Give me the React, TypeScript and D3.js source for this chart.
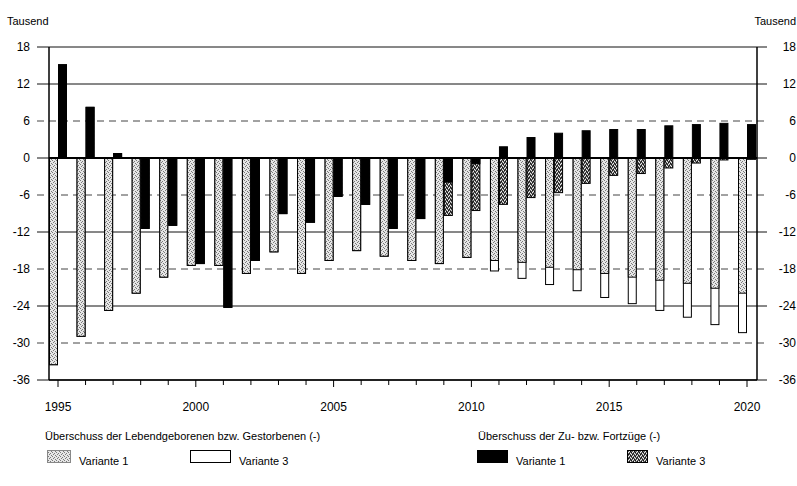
import { useEffect, useRef } from 'react'
import * as d3 from 'd3'

const years = [1995, 1996, 1997, 1998, 1999, 2000, 2001, 2002, 2003, 2004, 2005, 2006, 2007,
  2008, 2009, 2010, 2011, 2012, 2013, 2014, 2015, 2016, 2017, 2018, 2019, 2020]

// Überschuss der Lebendgeborenen bzw. Gestorbenen (Tausend)
const birthsV1 = [-33.6, -29.0, -24.8, -22.0, -19.4, -17.5, -17.5, -18.8, -15.3, -18.8, -16.7, -15.1, -16.0,
  -16.7, -17.2, -16.2, -16.7, -17.0, -17.8, -18.2, -18.8, -19.4, -19.9, -20.4, -21.2, -22.0]
const birthsV3 = [-33.6, -29.0, -24.8, -22.0, -19.4, -17.5, -17.5, -18.8, -15.3, -18.8, -16.7, -15.1, -16.0,
  -16.7, -17.2, -16.2, -18.4, -19.6, -20.6, -21.6, -22.7, -23.7, -24.8, -25.9, -27.1, -28.4]

// Überschuss der Zu- bzw. Fortzüge (Tausend)
const migrV1 = [15.2, 8.3, 0.8, -11.5, -11.0, -17.2, -24.3, -16.7, -9.1, -10.5, -6.3, -7.6, -11.5,
  -9.9, -4.0, -1.0, 1.9, 3.4, 4.1, 4.5, 4.7, 4.7, 5.3, 5.5, 5.7, 5.5]
const migrV3 = [15.2, 8.3, 0.8, -11.5, -11.0, -17.2, -24.3, -16.7, -9.1, -10.5, -6.3, -7.6, -11.5,
  -9.9, -9.4, -8.6, -7.6, -6.5, -5.7, -4.2, -2.9, -2.6, -1.7, -0.9, -0.4, -0.3]

const yTicks = [18, 12, 6, 0, -6, -12, -18, -24, -30, -36]
const dashedTicks = [6, -6, -18, -30]
const xLabels = [1995, 2000, 2005, 2010, 2015, 2020]

const FONT = 'Liberation Sans, Arial, sans-serif'

export default function App() {
  const svgRef = useRef<SVGSVGElement>(null)

  useEffect(() => {
    if (!svgRef.current) return
    const svg = d3.select(svgRef.current)
    svg.selectAll('*').remove()

    const W = 797, H = 486
    const left = 49, right = 757
    const y = d3.scaleLinear().domain([-36, 18]).range([380, 47])
    const x = d3.scaleLinear().domain([1995, 2020]).range([58, 747])
    const bw = 9

    svg.attr('width', W).attr('height', H)
    svg.append('rect').attr('width', W).attr('height', H).attr('fill', '#fff')

    // patterns
    const defs = svg.append('defs')
    const dots = defs.append('pattern').attr('id', 'dots')
      .attr('width', 4).attr('height', 4).attr('patternUnits', 'userSpaceOnUse')
    dots.append('rect').attr('width', 4).attr('height', 4).attr('fill', '#e6e6e6')
    ;[[0, 0], [2, 1], [1, 2], [3, 3]].forEach(([a, b]) =>
      dots.append('rect').attr('x', a).attr('y', b).attr('width', 1).attr('height', 1).attr('fill', '#7a7a7a'))

    const hatch = defs.append('pattern').attr('id', 'hatch')
      .attr('width', 4).attr('height', 4).attr('patternUnits', 'userSpaceOnUse')
    hatch.append('rect').attr('width', 4).attr('height', 4).attr('fill', '#666')
    ;[[0, 0], [2, 1], [1, 3], [3, 2]].forEach(([a, b]) =>
      hatch.append('rect').attr('x', a).attr('y', b).attr('width', 1).attr('height', 1).attr('fill', '#eee'))
    ;[[1, 1], [3, 0], [0, 2], [2, 3]].forEach(([a, b]) =>
      hatch.append('rect').attr('x', a).attr('y', b).attr('width', 1).attr('height', 1).attr('fill', '#111'))

    // grid lines
    yTicks.forEach(t => {
      const dashed = dashedTicks.includes(t)
      svg.append('line')
        .attr('x1', 37).attr('x2', 767)
        .attr('y1', y(t)).attr('y2', y(t))
        .attr('stroke', dashed ? '#444' : '#111')
        .attr('stroke-width', 1)
        .attr('stroke-dasharray', dashed ? '7,5' : null)
    })

    const g = svg.append('g')
    const bar = (vals: number[], x0: (i: number) => number, fill: string, stroke: string | null) => {
      g.selectAll(null).data(vals).enter().append('rect')
        .attr('x', (_, i) => x0(i) + 0.5)
        .attr('width', bw - 1)
        .attr('y', d => y(Math.max(0, d)) + 0.5)
        .attr('height', d => Math.max(0, Math.abs(y(d) - y(0)) - 1))
        .attr('fill', fill)
        .attr('stroke', stroke)
        .attr('stroke-width', stroke ? 1 : 0)
    }

    // Lebendgeborenen / Gestorbenen: left of the year tick
    bar(birthsV3, i => x(years[i]) - bw, '#fff', '#000')
    bar(birthsV1, i => x(years[i]) - bw, 'url(#dots)', '#000')
    // Zu- / Fortzüge: right of the year tick
    bar(migrV3, i => x(years[i]), 'url(#hatch)', '#000')
    bar(migrV1, i => x(years[i]), '#000', '#000')

    // axes frame
    svg.append('line').attr('x1', left).attr('x2', left).attr('y1', y(18)).attr('y2', y(-36))
      .attr('stroke', '#000').attr('stroke-width', 1.5)
    svg.append('line').attr('x1', right).attr('x2', right).attr('y1', y(18)).attr('y2', y(-36))
      .attr('stroke', '#000').attr('stroke-width', 1.5)
    svg.append('line').attr('x1', left).attr('x2', right).attr('y1', y(0)).attr('y2', y(0))
      .attr('stroke', '#000').attr('stroke-width', 2)
    svg.append('line').attr('x1', left).attr('x2', right).attr('y1', y(-36)).attr('y2', y(-36))
      .attr('stroke', '#000').attr('stroke-width', 1.5)

    // x ticks
    years.forEach(yr => {
      svg.append('line').attr('x1', x(yr)).attr('x2', x(yr))
        .attr('y1', y(-36)).attr('y2', y(-36) + (yr % 5 === 0 ? 7 : 5))
        .attr('stroke', '#000').attr('stroke-width', 1)
    })

    const txt = (tx: number, ty: number, s: string, anchor = 'start', size = 11) =>
      svg.append('text').attr('x', tx).attr('y', ty).attr('text-anchor', anchor)
        .attr('font-family', FONT).attr('font-size', size).attr('fill', '#000').text(s)

    yTicks.forEach(t => {
      txt(30, y(t) + 4, String(t), 'end', 12)
      txt(796, y(t) + 4, String(t), 'end', 12)
    })
    txt(7, 25, 'Tausend')
    txt(796, 25, 'Tausend', 'end')

    xLabels.forEach(yr => txt(x(yr), 411, String(yr), 'middle', 12))

    // legend
    txt(45, 440, 'Überschuss der Lebendgeborenen bzw. Gestorbenen (-)')
    txt(478, 440, 'Überschuss der Zu- bzw. Fortzüge (-)')

    const legend = [
      { x: 47, w: 23, fill: 'url(#dots)', stroke: '#888', label: 'Variante 1' },
      { x: 190, w: 40, fill: '#fff', stroke: '#000', label: 'Variante 3' },
      { x: 477, w: 30, fill: '#000', stroke: '#000', label: 'Variante 1' },
      { x: 627, w: 20, fill: 'url(#hatch)', stroke: '#000', label: 'Variante 3' },
    ]
    legend.forEach(l => {
      svg.append('rect').attr('x', l.x + 0.5).attr('y', 450.5).attr('width', l.w).attr('height', 12)
        .attr('fill', l.fill).attr('stroke', l.stroke).attr('stroke-width', 1)
      txt(l.x + l.w + 9, 465, l.label)
    })
  }, [])

  return <svg ref={svgRef} style={{ position: 'absolute', left: 0, top: 0 }} />
}
